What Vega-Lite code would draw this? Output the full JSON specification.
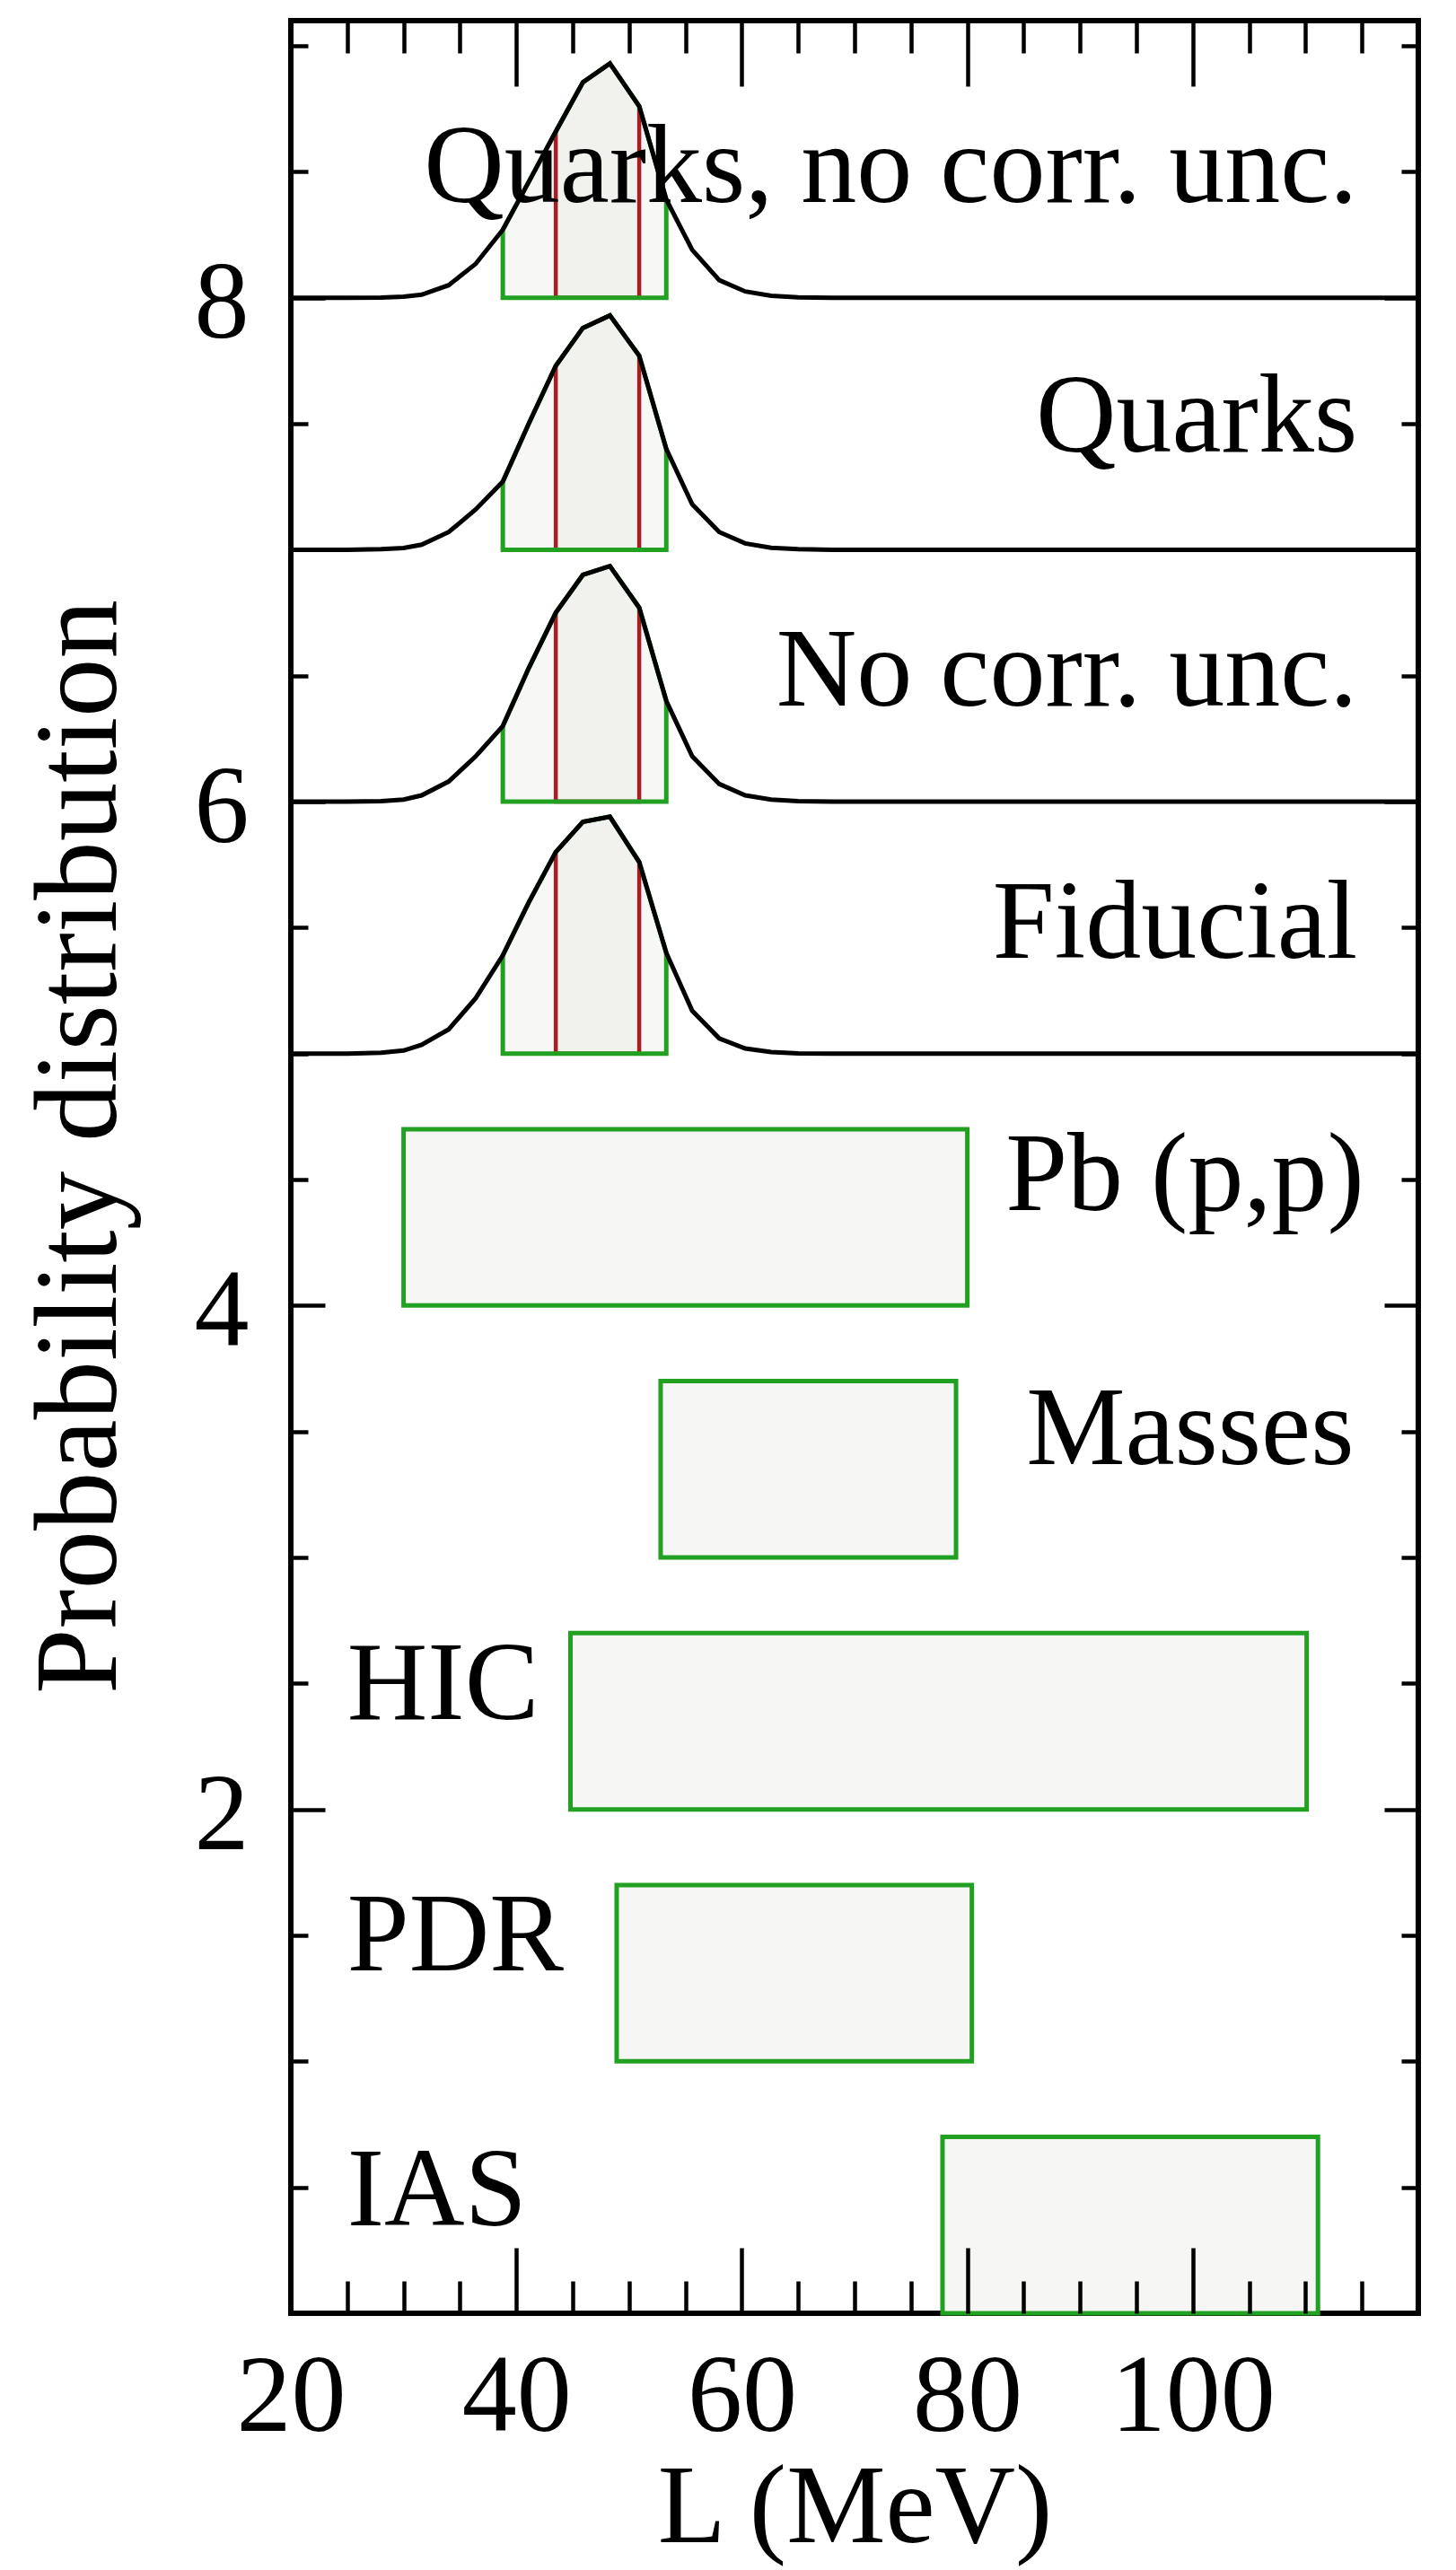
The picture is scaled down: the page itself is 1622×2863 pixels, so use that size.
{
  "$schema": "https://vega.github.io/schema/vega-lite/v6.json",
  "width": 1256,
  "height": 2554,
  "autosize": {"type": "none"},
  "padding": {"left": 324, "top": 23, "right": 42, "bottom": 286},
  "background": "white",
  "config": {
    "view": {"stroke": "black", "strokeWidth": 6},
    "font": "Liberation Serif",
    "axis": {"labelFont": "Liberation Serif", "titleFont": "Liberation Serif", "grid": false, "domain": false, "tickColor": "black", "tickWidth": 4.5, "tickCap": "butt", "labelColor": "black", "titleColor": "black", "titleFontWeight": "normal", "labelLimit": 600, "titleLimit": 3000}
  },
  "datasets": {
    "curves": [
      {"c": "Quarks, no corr. unc.", "L": 20, "P": 8, "base": 8},
      {"c": "Quarks, no corr. unc.", "L": 25, "P": 8, "base": 8},
      {"c": "Quarks, no corr. unc.", "L": 28, "P": 8.001, "base": 8},
      {"c": "Quarks, no corr. unc.", "L": 30, "P": 8.004, "base": 8},
      {"c": "Quarks, no corr. unc.", "L": 31.6, "P": 8.012, "base": 8},
      {"c": "Quarks, no corr. unc.", "L": 34, "P": 8.05, "base": 8},
      {"c": "Quarks, no corr. unc.", "L": 36.4, "P": 8.135, "base": 8},
      {"c": "Quarks, no corr. unc.", "L": 38.8, "P": 8.27, "base": 8},
      {"c": "Quarks, no corr. unc.", "L": 41.1, "P": 8.46, "base": 8},
      {"c": "Quarks, no corr. unc.", "L": 43.5, "P": 8.66, "base": 8},
      {"c": "Quarks, no corr. unc.", "L": 45.9, "P": 8.855, "base": 8},
      {"c": "Quarks, no corr. unc.", "L": 48.3, "P": 8.93, "base": 8},
      {"c": "Quarks, no corr. unc.", "L": 50.9, "P": 8.76, "base": 8},
      {"c": "Quarks, no corr. unc.", "L": 53.3, "P": 8.39, "base": 8},
      {"c": "Quarks, no corr. unc.", "L": 55.6, "P": 8.19, "base": 8},
      {"c": "Quarks, no corr. unc.", "L": 58, "P": 8.07, "base": 8},
      {"c": "Quarks, no corr. unc.", "L": 60.3, "P": 8.025, "base": 8},
      {"c": "Quarks, no corr. unc.", "L": 62.6, "P": 8.008, "base": 8},
      {"c": "Quarks, no corr. unc.", "L": 65, "P": 8.002, "base": 8},
      {"c": "Quarks, no corr. unc.", "L": 68, "P": 8, "base": 8},
      {"c": "Quarks, no corr. unc.", "L": 120, "P": 8, "base": 8},
      {"c": "Quarks", "L": 20, "P": 7, "base": 7},
      {"c": "Quarks", "L": 25, "P": 7, "base": 7},
      {"c": "Quarks", "L": 28, "P": 7.002, "base": 7},
      {"c": "Quarks", "L": 30, "P": 7.007, "base": 7},
      {"c": "Quarks", "L": 31.6, "P": 7.02, "base": 7},
      {"c": "Quarks", "L": 34, "P": 7.07, "base": 7},
      {"c": "Quarks", "L": 36.4, "P": 7.16, "base": 7},
      {"c": "Quarks", "L": 38.8, "P": 7.27, "base": 7},
      {"c": "Quarks", "L": 41.1, "P": 7.5, "base": 7},
      {"c": "Quarks", "L": 43.5, "P": 7.73, "base": 7},
      {"c": "Quarks", "L": 45.9, "P": 7.88, "base": 7},
      {"c": "Quarks", "L": 48.3, "P": 7.93, "base": 7},
      {"c": "Quarks", "L": 50.9, "P": 7.77, "base": 7},
      {"c": "Quarks", "L": 53.3, "P": 7.4, "base": 7},
      {"c": "Quarks", "L": 55.6, "P": 7.18, "base": 7},
      {"c": "Quarks", "L": 58, "P": 7.07, "base": 7},
      {"c": "Quarks", "L": 60.3, "P": 7.025, "base": 7},
      {"c": "Quarks", "L": 62.6, "P": 7.008, "base": 7},
      {"c": "Quarks", "L": 65, "P": 7.002, "base": 7},
      {"c": "Quarks", "L": 68, "P": 7, "base": 7},
      {"c": "Quarks", "L": 120, "P": 7, "base": 7},
      {"c": "No corr. unc.", "L": 20, "P": 6, "base": 6},
      {"c": "No corr. unc.", "L": 25, "P": 6, "base": 6},
      {"c": "No corr. unc.", "L": 28, "P": 6.002, "base": 6},
      {"c": "No corr. unc.", "L": 30, "P": 6.008, "base": 6},
      {"c": "No corr. unc.", "L": 31.6, "P": 6.025, "base": 6},
      {"c": "No corr. unc.", "L": 34, "P": 6.08, "base": 6},
      {"c": "No corr. unc.", "L": 36.4, "P": 6.18, "base": 6},
      {"c": "No corr. unc.", "L": 38.8, "P": 6.3, "base": 6},
      {"c": "No corr. unc.", "L": 41.1, "P": 6.53, "base": 6},
      {"c": "No corr. unc.", "L": 43.5, "P": 6.75, "base": 6},
      {"c": "No corr. unc.", "L": 45.9, "P": 6.9, "base": 6},
      {"c": "No corr. unc.", "L": 48.3, "P": 6.935, "base": 6},
      {"c": "No corr. unc.", "L": 50.9, "P": 6.77, "base": 6},
      {"c": "No corr. unc.", "L": 53.3, "P": 6.4, "base": 6},
      {"c": "No corr. unc.", "L": 55.6, "P": 6.18, "base": 6},
      {"c": "No corr. unc.", "L": 58, "P": 6.07, "base": 6},
      {"c": "No corr. unc.", "L": 60.3, "P": 6.025, "base": 6},
      {"c": "No corr. unc.", "L": 62.6, "P": 6.008, "base": 6},
      {"c": "No corr. unc.", "L": 65, "P": 6.002, "base": 6},
      {"c": "No corr. unc.", "L": 68, "P": 6, "base": 6},
      {"c": "No corr. unc.", "L": 120, "P": 6, "base": 6},
      {"c": "Fiducial", "L": 20, "P": 5, "base": 5},
      {"c": "Fiducial", "L": 25, "P": 5, "base": 5},
      {"c": "Fiducial", "L": 28, "P": 5.003, "base": 5},
      {"c": "Fiducial", "L": 30, "P": 5.012, "base": 5},
      {"c": "Fiducial", "L": 31.6, "P": 5.035, "base": 5},
      {"c": "Fiducial", "L": 34, "P": 5.096, "base": 5},
      {"c": "Fiducial", "L": 36.4, "P": 5.22, "base": 5},
      {"c": "Fiducial", "L": 38.8, "P": 5.39, "base": 5},
      {"c": "Fiducial", "L": 41.1, "P": 5.6, "base": 5},
      {"c": "Fiducial", "L": 43.5, "P": 5.8, "base": 5},
      {"c": "Fiducial", "L": 45.9, "P": 5.92, "base": 5},
      {"c": "Fiducial", "L": 48.3, "P": 5.94, "base": 5},
      {"c": "Fiducial", "L": 50.9, "P": 5.76, "base": 5},
      {"c": "Fiducial", "L": 53.3, "P": 5.4, "base": 5},
      {"c": "Fiducial", "L": 55.6, "P": 5.17, "base": 5},
      {"c": "Fiducial", "L": 58, "P": 5.06, "base": 5},
      {"c": "Fiducial", "L": 60.3, "P": 5.02, "base": 5},
      {"c": "Fiducial", "L": 62.6, "P": 5.006, "base": 5},
      {"c": "Fiducial", "L": 65, "P": 5.001, "base": 5},
      {"c": "Fiducial", "L": 68, "P": 5, "base": 5},
      {"c": "Fiducial", "L": 120, "P": 5, "base": 5}
    ],
    "boxes": [
      {"name": "Pb (p,p)", "lo": 30, "hi": 80, "y0": 4, "y1": 4.7},
      {"name": "Masses", "lo": 52.8, "hi": 79, "y0": 3, "y1": 3.7},
      {"name": "HIC", "lo": 44.8, "hi": 110.1, "y0": 2, "y1": 2.7},
      {"name": "PDR", "lo": 48.9, "hi": 80.4, "y0": 1, "y1": 1.7},
      {"name": "IAS", "lo": 77.8, "hi": 111.1, "y0": 0, "y1": 0.7}
    ],
    "labelsR": [
      {"t": "Quarks, no corr. unc.", "L": 114.6, "P": 8.38},
      {"t": "Quarks", "L": 114.6, "P": 7.39},
      {"t": "No corr. unc.", "L": 114.6, "P": 6.38},
      {"t": "Fiducial", "L": 114.6, "P": 5.38},
      {"t": "Pb (p,p)", "L": 115.2, "P": 4.38},
      {"t": "Masses", "L": 114.3, "P": 3.37}
    ],
    "labelsL": [
      {"t": "HIC", "L": 25, "P": 2.36},
      {"t": "PDR", "L": 25, "P": 1.36},
      {"t": "IAS", "L": 25, "P": 0.35}
    ]
  },
  "resolve": {"axis": {"x": "independent", "y": "independent"}},
  "layer": [
    {
      "data": {"name": "boxes"},
      "mark": {"type": "rect", "fill": "#f6f6f4", "stroke": "#22a022", "strokeWidth": 5},
      "encoding": {
        "x": {"field": "lo", "type": "quantitative", "scale": {"domain": [20, 120], "nice": false, "zero": false},
          "axis": {"orient": "bottom", "values": [20, 40, 60, 80, 100], "ticks": false, "labelFontSize": 122, "labelPadding": 34, "labelFlush": false, "labelOverlap": false, "labelLimit": 600, "title": "L (MeV)", "titleFontSize": 124, "titleX": 628, "titleY": 254, "titleBaseline": "alphabetic", "titleAlign": "center"}},
        "x2": {"field": "hi"},
        "y": {"field": "y0", "type": "quantitative", "scale": {"domain": [0, 9.1], "nice": false, "zero": false},
          "axis": {"orient": "left", "values": [2, 4, 6, 8], "ticks": false, "labelFontSize": 122, "labelPadding": 47, "labelFlush": false, "labelOverlap": false, "labelOffset": 7, "title": "Probability distribution", "titleFontSize": 131, "titleX": -196, "titleY": 1254, "titleBaseline": "alphabetic", "titleAngle": 270, "titleAlign": "center"}},
        "y2": {"field": "y1"}
      }
    },
    {
      "data": {"name": "curves"},
      "transform": [{"filter": "datum.L >= 38.8 && datum.L <= 53.3"}],
      "mark": {"type": "area", "fill": "#f7f7f5", "strokeWidth": 0},
      "encoding": {
        "detail": {"field": "c"},
        "x": {"field": "L", "type": "quantitative", "scale": {"domain": [20, 120], "nice": false, "zero": false},
          "axis": {"orient": "bottom", "values": [40, 60, 80, 100], "labels": false, "tickSize": -73, "title": null, "zindex": 1}},
        "y": {"field": "P", "type": "quantitative", "scale": {"domain": [0, 9.1], "nice": false, "zero": false},
          "axis": {"orient": "left", "values": [2, 4, 6, 8], "labels": false, "tickSize": -38, "title": null, "zindex": 1}},
        "y2": {"field": "base"}
      }
    },
    {
      "data": {"name": "curves"},
      "transform": [{"filter": "datum.L >= 43.5 && datum.L <= 50.9"}],
      "mark": {"type": "area", "fill": "#f1f1ee", "strokeWidth": 0},
      "encoding": {
        "detail": {"field": "c"},
        "x": {"field": "L", "type": "quantitative", "scale": {"domain": [20, 120], "nice": false, "zero": false},
          "axis": {"orient": "bottom", "values": [25, 30, 35, 45, 50, 55, 65, 70, 75, 85, 90, 95, 105, 110, 115], "labels": false, "tickSize": -36, "title": null, "zindex": 1}},
        "y": {"field": "P", "type": "quantitative", "scale": {"domain": [0, 9.1], "nice": false, "zero": false},
          "axis": {"orient": "left", "values": [0.5, 1, 1.5, 2.5, 3, 3.5, 4.5, 5, 5.5, 6.5, 7, 7.5, 8.5, 9], "labels": false, "tickSize": -19, "title": null, "zindex": 1}},
        "y2": {"field": "base"}
      }
    },
    {
      "data": {"name": "curves"},
      "transform": [{"filter": "datum.L >= 43.5 && datum.L <= 50.9"}],
      "mark": {"type": "area", "fill": "white", "fillOpacity": 0, "stroke": "#a81c24", "strokeWidth": 4.5},
      "encoding": {
        "detail": {"field": "c"},
        "x": {"field": "L", "type": "quantitative", "scale": {"domain": [20, 120], "nice": false, "zero": false},
          "axis": {"orient": "top", "values": [40, 60, 80, 100], "labels": false, "tickSize": -73, "title": null, "zindex": 1}},
        "y": {"field": "P", "type": "quantitative", "scale": {"domain": [0, 9.1], "nice": false, "zero": false},
          "axis": {"orient": "right", "values": [2, 4, 6, 8], "labels": false, "tickSize": -38, "title": null, "zindex": 1}},
        "y2": {"field": "base"}
      }
    },
    {
      "data": {"name": "curves"},
      "transform": [{"filter": "datum.L >= 38.8 && datum.L <= 53.3"}],
      "mark": {"type": "area", "fill": "white", "fillOpacity": 0, "stroke": "#22a022", "strokeWidth": 5},
      "encoding": {
        "detail": {"field": "c"},
        "x": {"field": "L", "type": "quantitative", "scale": {"domain": [20, 120], "nice": false, "zero": false},
          "axis": {"orient": "top", "values": [25, 30, 35, 45, 50, 55, 65, 70, 75, 85, 90, 95, 105, 110, 115], "labels": false, "tickSize": -36, "title": null, "zindex": 1}},
        "y": {"field": "P", "type": "quantitative", "scale": {"domain": [0, 9.1], "nice": false, "zero": false},
          "axis": {"orient": "right", "values": [0.5, 1, 1.5, 2.5, 3, 3.5, 4.5, 5, 5.5, 6.5, 7, 7.5, 8.5, 9], "labels": false, "tickSize": -19, "title": null, "zindex": 1}},
        "y2": {"field": "base"}
      }
    },
    {
      "data": {"name": "curves"},
      "mark": {"type": "line", "color": "black", "strokeWidth": 5, "strokeJoin": "miter"},
      "encoding": {
        "detail": {"field": "c"},
        "x": {"field": "L", "type": "quantitative", "scale": {"domain": [20, 120], "nice": false, "zero": false}, "axis": null},
        "y": {"field": "P", "type": "quantitative", "scale": {"domain": [0, 9.1], "nice": false, "zero": false}, "axis": null}
      }
    },
    {
      "data": {"name": "labelsR"},
      "mark": {"type": "text", "align": "right", "baseline": "alphabetic", "fontSize": 124, "font": "Liberation Serif", "color": "black"},
      "encoding": {
        "x": {"field": "L", "type": "quantitative", "scale": {"domain": [20, 120], "nice": false, "zero": false}, "axis": null},
        "y": {"field": "P", "type": "quantitative", "scale": {"domain": [0, 9.1], "nice": false, "zero": false}, "axis": null},
        "text": {"field": "t"}
      }
    },
    {
      "data": {"name": "labelsL"},
      "mark": {"type": "text", "align": "left", "baseline": "alphabetic", "fontSize": 124, "font": "Liberation Serif", "color": "black"},
      "encoding": {
        "x": {"field": "L", "type": "quantitative", "scale": {"domain": [20, 120], "nice": false, "zero": false}, "axis": null},
        "y": {"field": "P", "type": "quantitative", "scale": {"domain": [0, 9.1], "nice": false, "zero": false}, "axis": null},
        "text": {"field": "t"}
      }
    }
  ]
}
